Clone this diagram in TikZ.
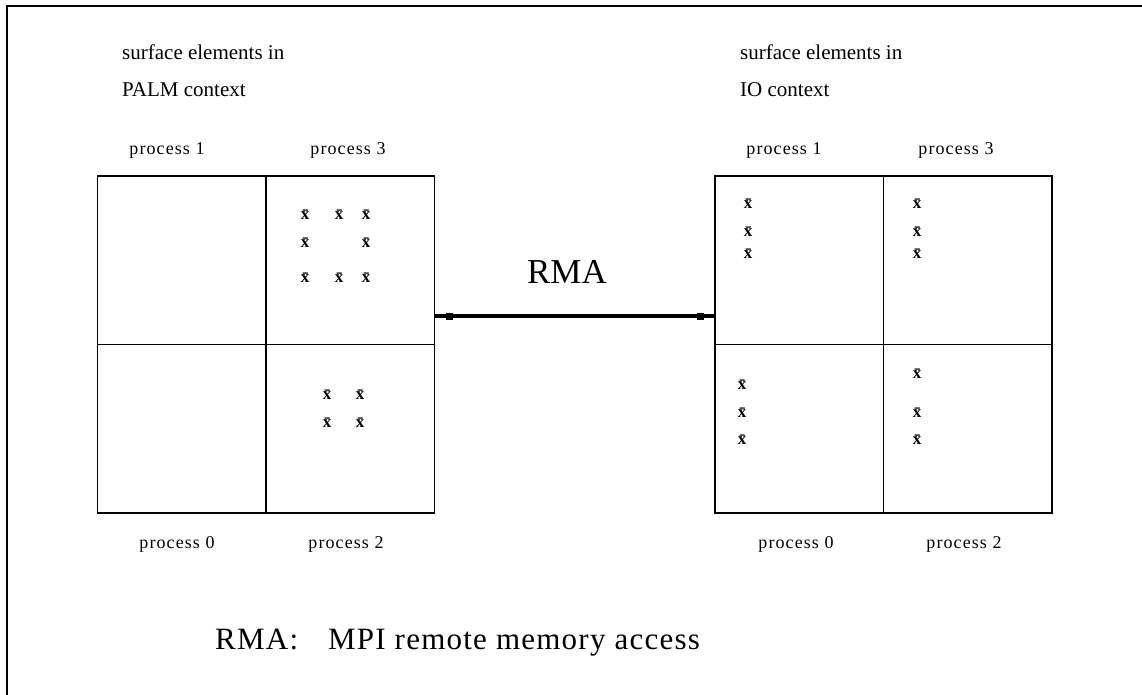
\documentclass[tikz,border=0pt]{standalone}
\usepackage{fontspec}
\setmainfont{Liberation Serif}
\newfontfamily\procfont[LetterSpace=6]{Liberation Serif}
\newfontfamily\notefont[LetterSpace=4]{Liberation Serif}
\usetikzlibrary{positioning,calc}

\begin{document}
\begin{tikzpicture}[x=1pt,y=-1pt,
        grid/.style={rectangle,draw,line width=1.5pt,
          minimum width=337pt,minimum height=337pt,inner sep=0pt},
        head/.style={anchor=base west,inner sep=0pt,
          font=\fontsize{21}{24}\selectfont},
        proc/.style={anchor=base,inner sep=0pt,
          font=\procfont\fontsize{18}{20}\selectfont},
        elem/.style={inner sep=0pt,font=\bfseries\fontsize{17}{17}\selectfont}]
  \useasboundingbox (0,0) rectangle (1142,695);
  \draw[line width=2pt] (6.5,695) -- (6.5,6.5) -- (1142,6.5);

  % the two decompositions
  \node[grid] (palm) at (266,344.5) {};
  \node[grid] (io) at (883.5,344.5) {};
  \foreach \b in {palm,io} {
    \draw[line width=1.5pt] (\b.north) -- (\b.south);
    \draw[line width=1.5pt] (\b.west) -- (\b.east);
  }

  \node[head] (palmhead) at (122,60) {surface elements in};
  \node[head] (palmctx) at (122,97) {PALM context};
  \node[head] (iohead) at (740,60) {surface elements in};
  \node[head] (ioctx) at (740,97) {IO context};

  \node[proc] (palm1) at (167,155) {process 1};
  \node[proc] (palm3) at (348,155) {process 3};
  \node[proc] (palm0) at (177,548) {process 0};
  \node[proc] (palm2) at (346,548) {process 2};
  \node[proc] (io1) at (784,155) {process 1};
  \node[proc] (io3) at (956,155) {process 3};
  \node[proc] (io0) at (796,548) {process 0};
  \node[proc] (io2) at (964,548) {process 2};

  % surface elements
  \foreach \x/\y [count=\i] in {305/215,339/215,366/215,305/243,366/243,
      305/278,339/278,366/278}
    \node[elem] (pa\i) at (\x,\y) {\={x}};
  \foreach \x/\y [count=\i] in {327/395,360/395,327/423,360/423}
    \node[elem] (pb\i) at (\x,\y) {\={x}};
  \foreach \x/\y [count=\i] in {748/204,748/232,748/254,917/204,917/232,
      917/254,742/385,742/413,742/440,917/374,917/413,917/440}
    \node[elem] (ie\i) at (\x,\y) {\={x}};

  % remote memory access
  \coordinate (rmaL) at ($(palm.east)+(0,-28.5)$);
  \coordinate (rmaR) at (rmaL -| io.west);
  \draw[line width=4pt] (rmaL) -- (rmaR);
  \fill ($(rmaL)!14pt!(rmaR)$) ++(-3.5,-3) rectangle ++(7,7);
  \fill ($(rmaR)!14pt!(rmaL)$) ++(-3.5,-3) rectangle ++(7,7);
  \node[anchor=base,inner sep=0pt,font=\fontsize{35}{38}\selectfont]
    (rma) at (567,283) {RMA};

  \node[anchor=base west,inner sep=0pt,font=\notefont\fontsize{31}{33}\selectfont]
    (note) at (215,649) {RMA:\hspace{30pt}MPI remote memory access};
\end{tikzpicture}
\end{document}
